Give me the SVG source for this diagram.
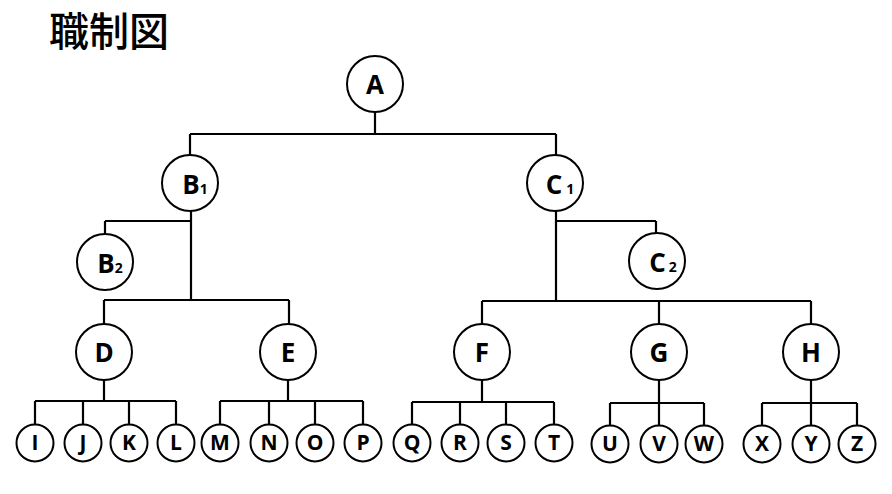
<svg xmlns="http://www.w3.org/2000/svg" width="892" height="494" viewBox="0 0 892 494">
<style>
.c{fill:#fff;stroke:#000;stroke-width:2}
.l{fill:none;stroke:#000;stroke-width:2.2}
.t{font-family:"Open Sans","Liberation Sans",sans-serif;font-weight:bold;text-anchor:middle;fill:#000}
.big{font-size:26px}
.sm{font-size:21px}
.sub{font-size:14px}
.title{font-family:"Noto Sans CJK JP",sans-serif;font-size:40px;font-weight:500;fill:#000}
</style>
<rect width="892" height="494" fill="#fff"/>
<text class="title" x="49" y="46">職制図</text>
<g id="connectors">
<path class="l" d="M375 111V134M190 134H556M190 134V156M556 134V156"/>
<path class="l" d="M191 211V300M105 221H191M105 221V234M104 300H289M104 300V325M289 300V325"/>
<path class="l" d="M556 211V301M556 221H656M656 221V233M482 301H811M482 301V325M659 301V325M811 301V325"/>
<path class="l" d="M104 380V401M35 401H176M35 401V424M83 401V424M129 401V424M176 401V424"/>
<path class="l" d="M288 380V401M220 401H363M220 401V424M269 401V424M315 401V424M363 401V424"/>
<path class="l" d="M482 380V402M412 402H554M412 402V424M460 402V424M506 402V424M554 402V424"/>
<path class="l" d="M659 380V403M610 403H704M610 403V425M659 403V425M704 403V425"/>
<path class="l" d="M811 380V403M762 403H857M762 403V425M811 403V425M857 403V425"/>
</g>
<g id="A"><circle class="c" cx="375" cy="84" r="28"/><text class="t big" x="375" y="94">A</text></g>
<g id="B1"><circle class="c" cx="190" cy="183" r="28"/><text class="t big" x="195" y="194">B<tspan class="sub">1</tspan></text></g>
<g id="C1"><circle class="c" cx="555" cy="183" r="28"/><text class="t big" x="560" y="194">C<tspan class="sub" dx="4">1</tspan></text></g>
<g id="B2"><circle class="c" cx="105" cy="262" r="28"/><text class="t big" x="110" y="273">B<tspan class="sub">2</tspan></text></g>
<g id="C2"><circle class="c" cx="657" cy="261" r="28"/><text class="t big" x="663" y="272">C<tspan class="sub" dx="3">2</tspan></text></g>
<g id="D"><circle class="c" cx="104" cy="352" r="28"/><text class="t big" x="104" y="362">D</text></g>
<g id="E"><circle class="c" cx="288" cy="352" r="28"/><text class="t big" x="288" y="362">E</text></g>
<g id="F"><circle class="c" cx="482" cy="352" r="28"/><text class="t big" x="482" y="362">F</text></g>
<g id="G"><circle class="c" cx="659" cy="352" r="28"/><text class="t big" x="659" y="362">G</text></g>
<g id="H"><circle class="c" cx="811" cy="352" r="28"/><text class="t big" x="811" y="362">H</text></g>
<g id="I"><circle class="c" cx="35" cy="443" r="18.5"/><text class="t sm" x="35" y="450">I</text></g>
<g id="J"><circle class="c" cx="83" cy="443" r="18.5"/><text class="t sm" x="83" y="450">J</text></g>
<g id="K"><circle class="c" cx="129" cy="443" r="18.5"/><text class="t sm" x="129" y="450">K</text></g>
<g id="L"><circle class="c" cx="176" cy="443" r="18.5"/><text class="t sm" x="176" y="450">L</text></g>
<g id="M"><circle class="c" cx="220" cy="443" r="18.5"/><text class="t sm" x="220" y="450">M</text></g>
<g id="N"><circle class="c" cx="269" cy="443" r="18.5"/><text class="t sm" x="269" y="450">N</text></g>
<g id="O"><circle class="c" cx="315" cy="443" r="18.5"/><text class="t sm" x="315" y="450">O</text></g>
<g id="P"><circle class="c" cx="363" cy="443" r="18.5"/><text class="t sm" x="363" y="450">P</text></g>
<g id="Q"><circle class="c" cx="412" cy="443" r="18.5"/><text class="t sm" x="412" y="450">Q</text></g>
<g id="R"><circle class="c" cx="460" cy="443" r="18.5"/><text class="t sm" x="460" y="450">R</text></g>
<g id="S"><circle class="c" cx="506" cy="443" r="18.5"/><text class="t sm" x="506" y="450">S</text></g>
<g id="T"><circle class="c" cx="554" cy="443" r="18.5"/><text class="t sm" x="554" y="450">T</text></g>
<g id="U"><circle class="c" cx="610" cy="444" r="18.5"/><text class="t sm" x="610" y="451">U</text></g>
<g id="V"><circle class="c" cx="659" cy="444" r="18.5"/><text class="t sm" x="659" y="451">V</text></g>
<g id="W"><circle class="c" cx="704" cy="444" r="18.5"/><text class="t sm" x="704" y="451">W</text></g>
<g id="X"><circle class="c" cx="762" cy="444" r="18.5"/><text class="t sm" x="762" y="451">X</text></g>
<g id="Y"><circle class="c" cx="811" cy="444" r="18.5"/><text class="t sm" x="811" y="451">Y</text></g>
<g id="Z"><circle class="c" cx="857" cy="444" r="18.5"/><text class="t sm" x="857" y="451">Z</text></g>
</svg>
